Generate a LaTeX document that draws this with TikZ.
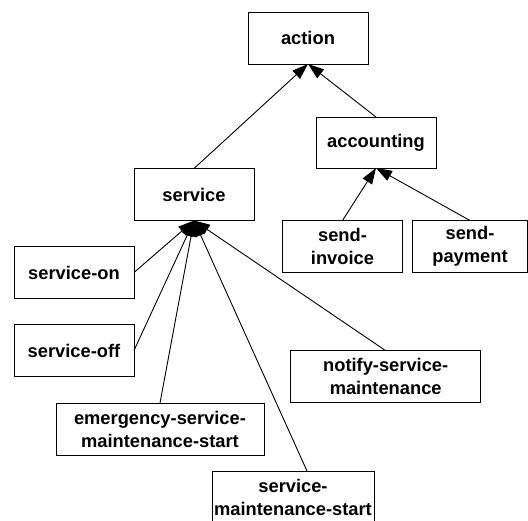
\documentclass[tikz,border=0pt]{standalone}
\usepackage{fontspec}
\setmainfont{Liberation Sans}
\usetikzlibrary{arrows.meta,calc}
\begin{document}
\begin{tikzpicture}[x=1pt,y=-1pt,
  box/.style={draw=black,line width=0.9pt,fill=white,align=center,inner sep=0pt,outer sep=0pt,
    minimum height=52pt,font=\fontsize{18.3}{23}\selectfont\bfseries},
  arr/.style={line width=0.9pt,-{Triangle[length=16pt,width=11pt]}}]
\useasboundingbox (0,0) rectangle (528,520);
\node[box,minimum width=120pt] (action) at (308,38) {action};
\node[box,minimum width=120pt,minimum height=51pt] (accounting) at (376,142.5) {accounting};
\node[box,minimum width=120pt] (service) at (194,194.5) {service};
\node[box,minimum width=120pt] (sendinvoice) at (342.5,246.5) {send-\\invoice};
\node[box,minimum width=115pt] (sendpayment) at (470,246.5) {send-\\payment};
\node[box,minimum width=120pt] (serviceon) at (74,272.5) {service-on};
\node[box,minimum width=120pt] (serviceoff) at (74,350.5) {service-off};
\node[box,minimum width=190pt] (notify) at (385.7,376.7) {notify-service-\\maintenance};
\node[box,minimum width=208pt] (emergency) at (160,429) {emergency-service-\\maintenance-start};
\node[box,minimum width=162pt] (sms) at (293,497) {service-\\maintenance-start};
\draw[arr] (service.north) -- (action.south);
\draw[arr] (accounting.north) -- (action.south);
\draw[arr] (sendinvoice.north) -- (accounting.south);
\draw[arr] (sendpayment.north) -- (accounting.south);
\draw[arr] (serviceon.east) -- (service.south);
\draw[arr] (serviceoff.east) -- (service.south);
\draw[arr] (emergency.north) -- (service.south);
\draw[arr] ($(sms.north)+(14,0)$) -- (service.south);
\draw[arr] (notify.north) -- (service.south);
\end{tikzpicture}
\end{document}
